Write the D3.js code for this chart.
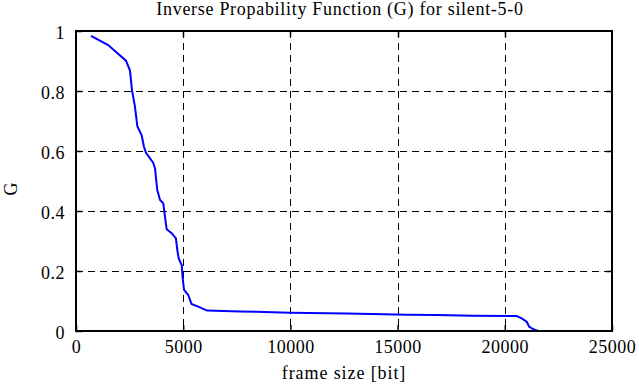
<!DOCTYPE html>
<html>
<head>
<meta charset="utf-8">
<script src="https://cdn.jsdelivr.net/npm/d3@7"></script>
<style>
body{margin:0;background:#fff;}
text{font-family:"Liberation Serif","DejaVu Serif",serif;fill:#000;}
</style>
</head>
<body>
<div id="chart"></div>
<script>
// values
var frameSize = [700,1500,2330,2520,2610,2750,2860,3060,3170,3265,3600,3685,3790,3920,4070,4150,4230,4460,4660,4725,4790,4930,4975,5040,5235,5390,5780,6110,7650,8400,9980,12640,15440,16840,18500,20550,20790,21020,21140,21330,21560];
var gValue    = [0.984,0.953,0.901,0.868,0.803,0.748,0.683,0.653,0.614,0.594,0.561,0.542,0.47,0.437,0.426,0.381,0.339,0.326,0.309,0.27,0.242,0.22,0.176,0.137,0.12,0.09,0.079,0.068,0.065,0.064,0.061,0.058,0.054,0.053,0.051,0.05,0.042,0.031,0.014,0.006,0];
var xTicks = [0,5000,10000,15000,20000,25000];
var yTicks = [0,0.2,0.4,0.6,0.8,1];

var width = 639, height = 387;
var pl = 76, pr = 612, pt = 31, pb = 331;

var svg = d3.select('#chart').append('svg')
.attr('width', width)
.attr('height', height);

var x = d3.scaleLinear().domain([0,25000]).range([pl,pr]);
var y = d3.scaleLinear().domain([0,1]).range([pb,pt]);
// snap 1px lines to the pixel grid
function sx(d){return Math.round(x(d))+0.5;}
function sy(d){return Math.round(y(d))+0.5;}

// grid
svg.selectAll('.gx').data(xTicks.slice(1,-1)).enter().append('line')
.attr('x1', sx).attr('x2', sx)
.attr('y1', pt).attr('y2', pb)
.attr('stroke','#000').attr('stroke-width',1).attr('stroke-dasharray','7,5');
svg.selectAll('.gy').data(yTicks.slice(1,-1)).enter().append('line')
.attr('x1', pl).attr('x2', pr)
.attr('y1', sy).attr('y2', sy)
.attr('stroke','#000').attr('stroke-width',1).attr('stroke-dasharray','7,5');

// axes (labels, ticks drawn inward)
var xAxis = svg.append('g').attr('transform','translate(0,'+pb+')')
.call(d3.axisBottom(x).tickValues(xTicks).tickFormat(d3.format('d')).tickSize(-6).tickPadding(9));
var yAxis = svg.append('g').attr('transform','translate('+pl+',0)')
.call(d3.axisLeft(y).tickValues(yTicks).tickFormat(function(d){return d;}).tickSize(-6).tickPadding(11));
[xAxis,yAxis].forEach(function(a){
  a.select('.domain').remove();
  a.selectAll('line').attr('stroke','#000').attr('stroke-width',1.5);
  a.selectAll('text').attr('font-size',18).attr('letter-spacing','0.5px')
   .attr('font-family','Liberation Serif');
});
yAxis.selectAll('text').attr('dy','0.42em');
// top and right ticks
svg.selectAll('.tt').data(xTicks.slice(1,-1)).enter().append('line')
.attr('x1', sx).attr('x2', sx)
.attr('y1', pt).attr('y2', pt+6).attr('stroke','#000').attr('stroke-width',1.5);
svg.selectAll('.rt').data(yTicks.slice(1,-1)).enter().append('line')
.attr('x1', pr).attr('x2', pr-6)
.attr('y1', sy).attr('y2', sy)
.attr('stroke','#000').attr('stroke-width',1.5);

// curve
var line = d3.line()
.x(function(d,i){return x(frameSize[i]);})
.y(function(d){return y(d);});
svg.append('path').datum(gValue)
.attr('d', line)
.attr('fill','none').attr('stroke','#0000ff').attr('stroke-width',2);

// border
svg.append('rect').attr('x',pl).attr('y',pt)
.attr('width',pr-pl).attr('height',pb-pt)
.attr('fill','none').attr('stroke','#000').attr('stroke-width',2);

// labels
svg.append('text').attr('x',(pl+pr)/2-4).attr('y',15)
.attr('text-anchor','middle').attr('font-size',18).attr('letter-spacing','0.7px')
.text('Inverse Propability Function (G) for silent-5-0');
svg.append('text').attr('x',(pl+pr)/2).attr('y',379)
.attr('text-anchor','middle').attr('font-size',18).attr('letter-spacing','0.9px')
.text('frame size [bit]');
svg.append('text').attr('transform','translate(17,189) rotate(-90)')
.attr('text-anchor','middle').attr('font-size',18)
.text('G');
</script>
</body>
</html>
